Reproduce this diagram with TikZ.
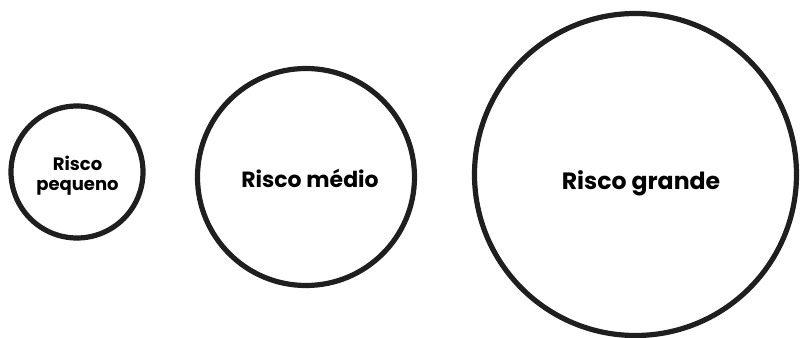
\documentclass[tikz,border=0pt]{standalone}
\usepackage{fontspec}
\setmainfont{Poppins}
\tikzset{every picture/.style={line width=0.75pt}}
\tikzset{
  risco/.style={draw=black!88, circle, line width=3.9pt, inner sep=0pt},
  rotulo/.style={inner sep=0.75pt, align=center, font=\bfseries}
}
\begin{document}
\begin{tikzpicture}[x=0.75pt,y=0.75pt,yscale=-1,xscale=1]
\useasboundingbox (0,0) rectangle (800,338);

%Shape: Circle [pequeno]
\node[risco, minimum size=99pt] (pequeno) at (77,172) {};
%Shape: Circle [medio]
\node[risco, minimum size=162.75pt] (medio) at (306,177) {};
%Shape: Circle [grande]
\node[risco, minimum size=241.5pt] (grande) at (635.5,174.5) {};

% Text Node
\node[rotulo, font=\bfseries\fontsize{13.5}{15}\selectfont] (tpequeno) at (77.5,176) {Risco\\pequeno};
% Text Node
\node[rotulo, anchor=base, font=\bfseries\fontsize{16.5}{19}\selectfont] (tmedio) at (310,188) {Risco médio};
% Text Node
\node[rotulo, anchor=base, font=\bfseries\fontsize{17.7}{21}\selectfont] (tgrande) at (641,190) {Risco grande};

\end{tikzpicture}
\end{document}
